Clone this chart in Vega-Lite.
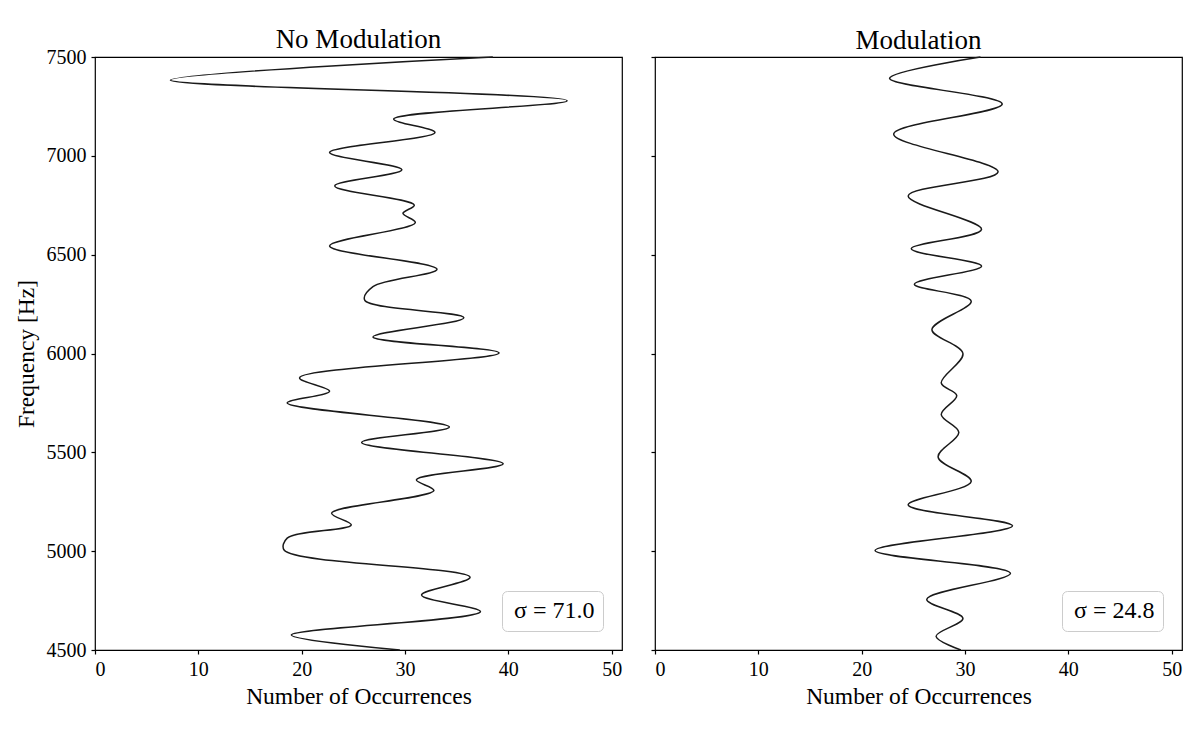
{
  "$schema": "https://vega.github.io/schema/vega-lite/v6.json",
  "background": "white",
  "padding": {"left": 13, "top": 25, "right": 10, "bottom": 10},
  "spacing": 26,
  "datasets": {
    "nomod": [
      {"freq": 7500, "count": 38.5},
      {"freq": 7383, "count": 7.3},
      {"freq": 7279, "count": 45.7},
      {"freq": 7186, "count": 28.9},
      {"freq": 7118, "count": 32.9},
      {"freq": 7017, "count": 22.7},
      {"freq": 6929, "count": 29.7},
      {"freq": 6848, "count": 23.2},
      {"freq": 6751, "count": 30.9},
      {"freq": 6709, "count": 29.8},
      {"freq": 6662, "count": 31.0},
      {"freq": 6544, "count": 22.7},
      {"freq": 6426, "count": 33.1},
      {"freq": 6338, "count": 26.9},
      {"freq": 6270, "count": 26.1},
      {"freq": 6181, "count": 35.7},
      {"freq": 6084, "count": 26.9},
      {"freq": 6003, "count": 39.1},
      {"freq": 5877, "count": 19.8},
      {"freq": 5809, "count": 22.7},
      {"freq": 5750, "count": 18.6},
      {"freq": 5628, "count": 34.3},
      {"freq": 5550, "count": 25.8},
      {"freq": 5442, "count": 39.5},
      {"freq": 5361, "count": 31.1},
      {"freq": 5307, "count": 32.8},
      {"freq": 5192, "count": 22.9},
      {"freq": 5133, "count": 24.8},
      {"freq": 5066, "count": 18.6},
      {"freq": 5006, "count": 18.3},
      {"freq": 4868, "count": 36.3},
      {"freq": 4778, "count": 31.6},
      {"freq": 4694, "count": 37.3},
      {"freq": 4576, "count": 19.0},
      {"freq": 4500, "count": 29.5}
    ],
    "mod": [
      {"freq": 7500, "count": 31.5},
      {"freq": 7392, "count": 22.7},
      {"freq": 7262, "count": 33.6},
      {"freq": 7110, "count": 23.1},
      {"freq": 6919, "count": 33.2},
      {"freq": 6797, "count": 24.5},
      {"freq": 6628, "count": 31.6},
      {"freq": 6530, "count": 24.8},
      {"freq": 6442, "count": 31.6},
      {"freq": 6350, "count": 25.1},
      {"freq": 6265, "count": 30.6},
      {"freq": 6121, "count": 26.8},
      {"freq": 6000, "count": 29.8},
      {"freq": 5851, "count": 27.7},
      {"freq": 5787, "count": 29.2},
      {"freq": 5691, "count": 27.7},
      {"freq": 5601, "count": 29.4},
      {"freq": 5476, "count": 27.4},
      {"freq": 5353, "count": 30.6},
      {"freq": 5234, "count": 24.5},
      {"freq": 5128, "count": 34.6},
      {"freq": 5003, "count": 21.3},
      {"freq": 4888, "count": 34.4},
      {"freq": 4756, "count": 26.3},
      {"freq": 4660, "count": 29.8},
      {"freq": 4570, "count": 27.2},
      {"freq": 4500, "count": 29.6}
    ]
  },
  "hconcat": [
    {
      "title": {"text": "No Modulation", "offset": -7},
      "width": 527,
      "height": 593,
      "layer": [
        {
          "data": {"name": "nomod"},
          "mark": {"type": "line", "interpolate": "catmull-rom", "color": "#1a1a1a", "strokeWidth": 1.5},
          "encoding": {
            "x": {
              "field": "count", "type": "quantitative",
              "scale": {"domain": [0, 51], "nice": false, "zero": false},
              "axis": {"values": [0, 10, 20, 30, 40, 50], "title": "Number of Occurrences"}
            },
            "y": {
              "field": "freq", "type": "quantitative",
              "scale": {"domain": [4500, 7500], "nice": false, "zero": false},
              "axis": {"values": [4500, 5000, 5500, 6000, 6500, 7000, 7500], "format": "d", "title": "Frequency [Hz]"}
            },
            "order": {"field": "freq", "type": "quantitative", "sort": "descending"}
          }
        },
        {
          "data": {"values": [{"stat": "σ = 71.0"}]},
          "mark": {"type": "point", "opacity": 0},
          "encoding": {
            "color": {"field": "stat", "type": "nominal", "scale": {"range": ["black"]}, "legend": {"title": null, "orient": "bottom-right"}}
          }
        }
      ]
    },
    {
      "title": {"text": "Modulation", "offset": -1},
      "width": 527,
      "height": 593,
      "layer": [
        {
          "data": {"name": "mod"},
          "mark": {"type": "line", "interpolate": "catmull-rom", "color": "#1a1a1a", "strokeWidth": 1.5},
          "encoding": {
            "x": {
              "field": "count", "type": "quantitative",
              "scale": {"domain": [0, 51], "nice": false, "zero": false},
              "axis": {"values": [0, 10, 20, 30, 40, 50], "title": "Number of Occurrences"}
            },
            "y": {
              "field": "freq", "type": "quantitative",
              "scale": {"domain": [4500, 7500], "nice": false, "zero": false},
              "axis": {"values": [4500, 5000, 5500, 6000, 6500, 7000, 7500], "labels": false, "title": null}
            },
            "order": {"field": "freq", "type": "quantitative", "sort": "descending"}
          }
        },
        {
          "data": {"values": [{"stat": "σ = 24.8"}]},
          "mark": {"type": "point", "opacity": 0},
          "encoding": {
            "color": {"field": "stat", "type": "nominal", "scale": {"range": ["black"]}, "legend": {"title": null, "orient": "bottom-right"}}
          }
        }
      ]
    }
  ],
  "resolve": {"scale": {"color": "independent"}, "legend": {"color": "independent"}},
  "config": {
    "font": "Liberation Serif",
    "view": {"stroke": "black", "strokeWidth": 1.2},
    "title": {"font": "Liberation Serif", "fontSize": 27, "fontWeight": "normal", "color": "black"},
    "axis": {
      "labelFont": "Liberation Serif",
      "titleFont": "Liberation Serif",
      "labelFontSize": 20,
      "titleFontSize": 23.5,
      "titleFontWeight": "normal",
      "labelColor": "black",
      "titleColor": "black",
      "grid": false,
      "domain": false,
      "tickColor": "black",
      "tickWidth": 1.2,
      "tickSize": 4,
      "labelPadding": 5
    },
    "axisX": {"titlePadding": 5},
    "axisY": {"titlePadding": 8},
    "legend": {
      "labelFont": "Liberation Serif",
      "labelFontSize": 24,
      "labelColor": "black",
      "symbolSize": 0,
      "symbolOpacity": 0,
      "symbolStrokeWidth": 0,
      "labelOffset": -20,
      "padding": 8,
      "cornerRadius": 5,
      "strokeColor": "#cccccc",
      "fillColor": "white",
      "offset": 19
    }
  }
}
